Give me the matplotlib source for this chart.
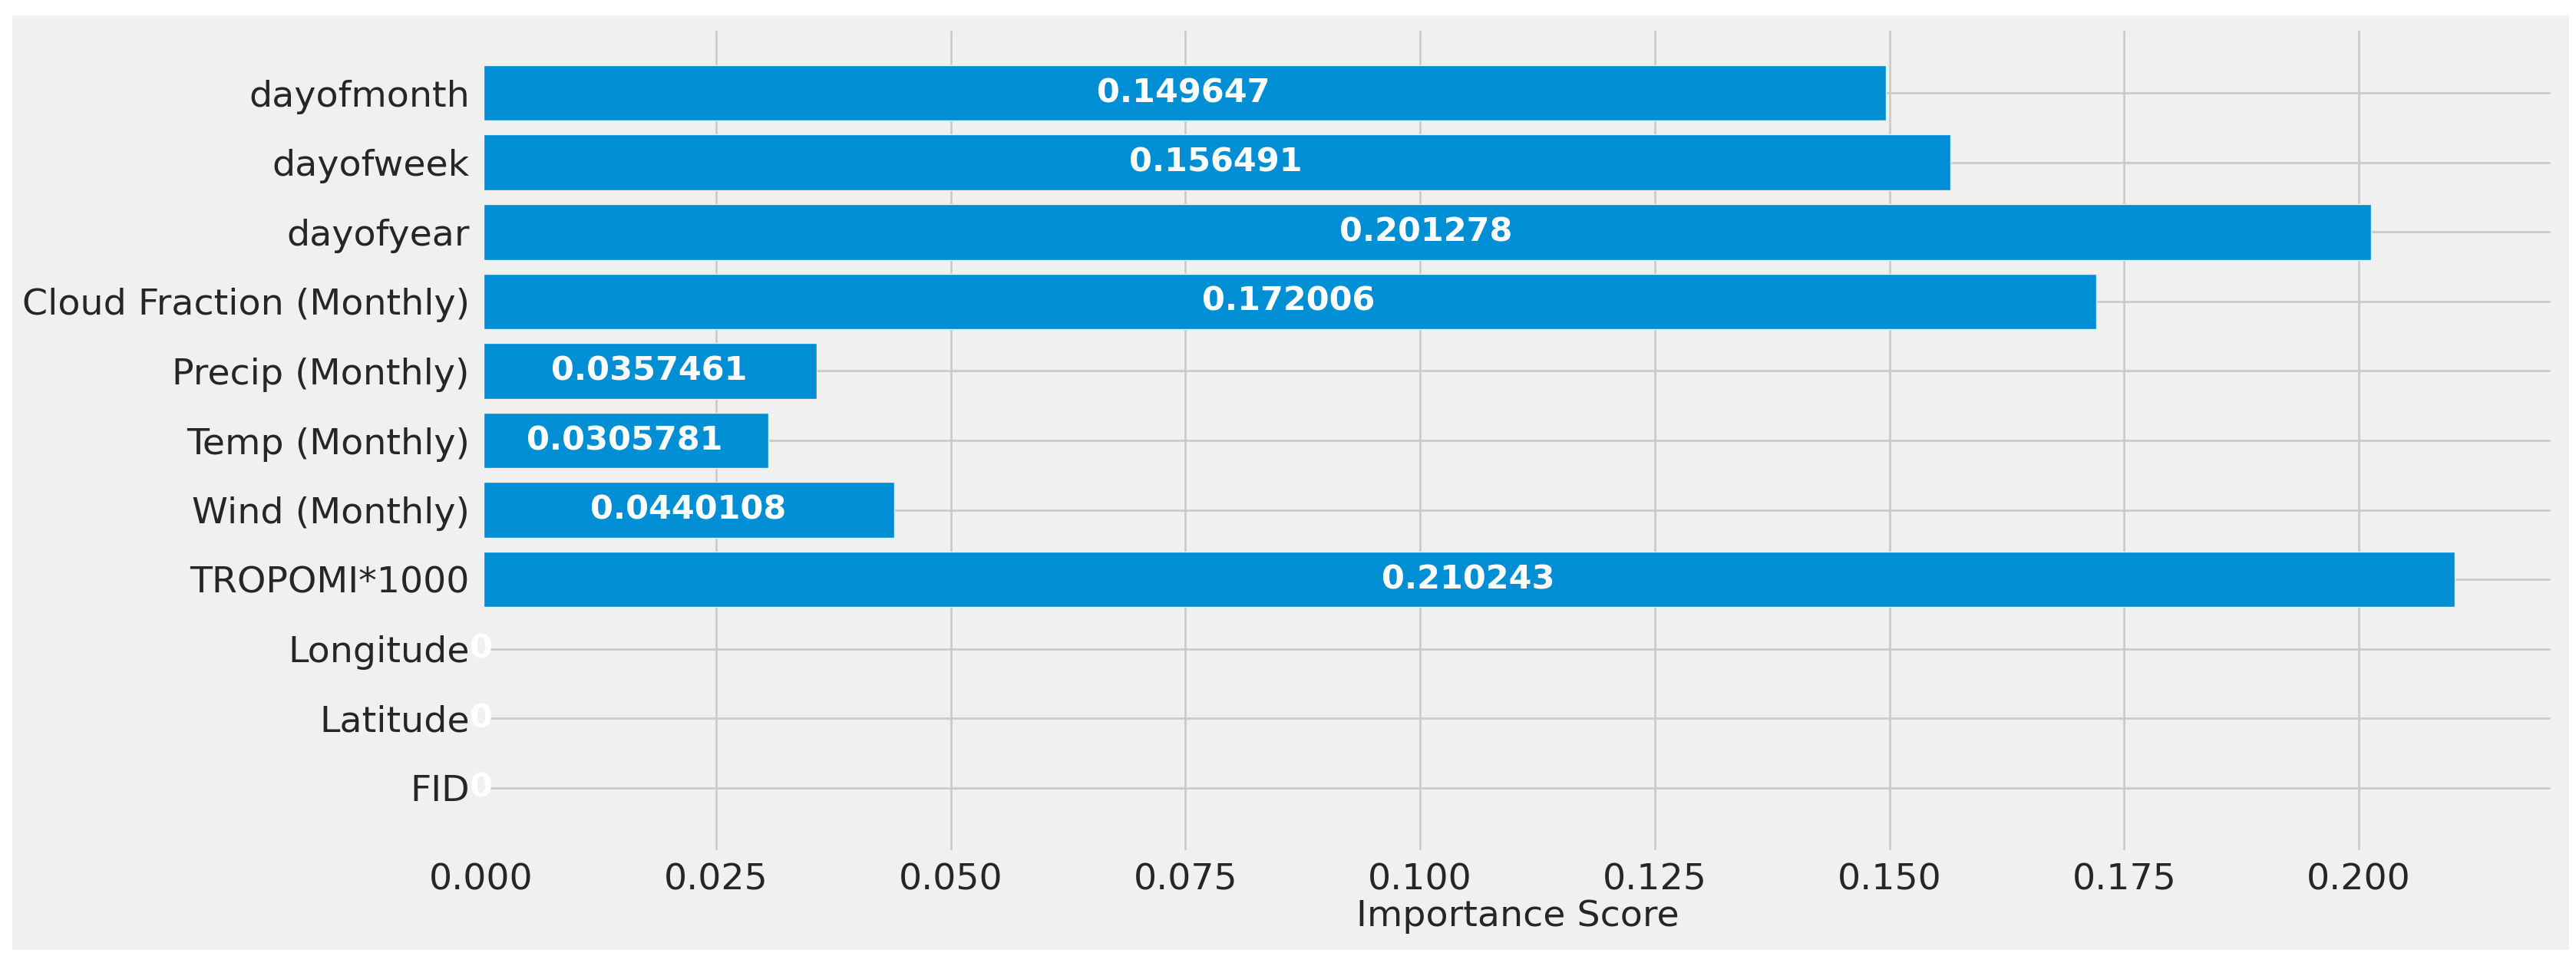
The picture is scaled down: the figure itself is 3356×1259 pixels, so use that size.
import matplotlib
matplotlib.use("Agg")
import matplotlib.pyplot as plt
from matplotlib.patches import Rectangle

features = ["FID", "Latitude", "Longitude", "TROPOMI*1000", "Wind (Monthly)",
            "Temp (Monthly)", "Precip (Monthly)", "Cloud Fraction (Monthly)",
            "dayofyear", "dayofweek", "dayofmonth"]
importance = [0, 0, 0, 0.210243, 0.0440108, 0.0305781, 0.0357461, 0.172006,
              0.201278, 0.156491, 0.149647]

plt.style.use("fivethirtyeight")
plt.rcParams["font.family"] = ["DejaVu Sans"]

W, H, DPI = 3356, 1259, 200
fig = plt.figure(figsize=(W / DPI, H / DPI), dpi=DPI, facecolor="white")
# light grey figure panel inside a thin white border
fig.patches.append(Rectangle((16 / W, 21 / H), (3347 - 16) / W, (1238 - 20) / H,
                             transform=fig.transFigure, facecolor="#f0f0f0",
                             edgecolor="none", zorder=-10))

ax = fig.add_axes([627 / W, (H - 1112) / H, (3327 - 627) / W, (1112 - 36) / H])
ax.set_facecolor("#f0f0f0")

bars = ax.barh(features, importance, color="#008fd5", edgecolor="#f0f0f0", linewidth=0.5)
ax.bar_label(bars, label_type="center", color="white", fontweight="bold", fontsize=15.5)

ax.set_xlabel("Importance Score", fontsize=17.1, color="#262626", labelpad=1)
ax.tick_params(axis="both", labelsize=17.1, colors="#262626")
ax.tick_params(axis="y", pad=5.5)
ax.tick_params(axis="x", pad=4.5)
ax.grid(True, color="#cbcbcb", linewidth=1.0)
for s in ax.spines.values():
    s.set_color("#f0f0f0")

fig.savefig("out.png", dpi=DPI, facecolor="white")
